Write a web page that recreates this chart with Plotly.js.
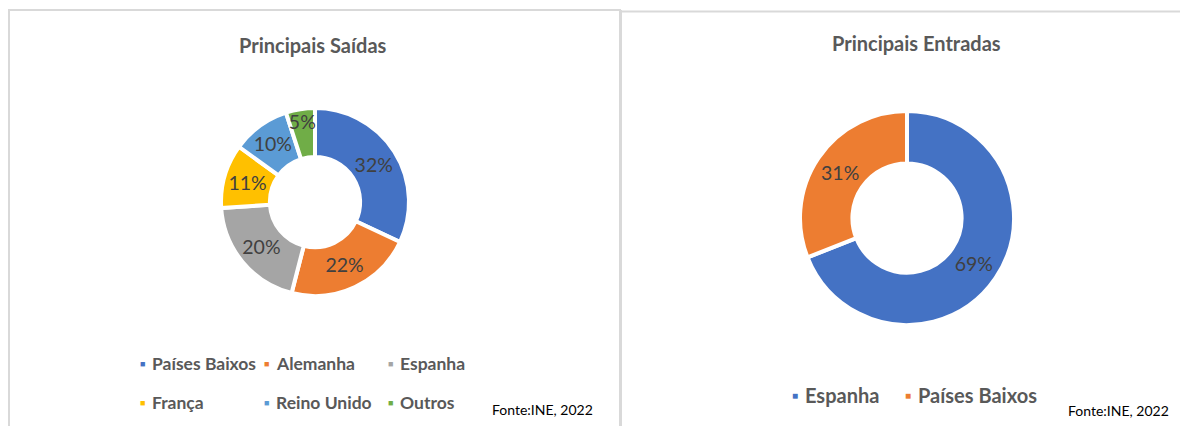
<!DOCTYPE html>
<html>
<head>
<meta charset="utf-8">
<script src="https://cdn.plot.ly/plotly-3.0.1.min.js"></script>
<style>
html,body{margin:0;padding:0;background:#fff;}
#chart{width:1180px;height:426px;}
</style>
</head>
<body>
<div id="chart"></div>
<script>
// ---- data ----
const outTitle = 'Principais Saídas';
const outCategories = ['Países Baixos', 'Alemanha', 'Espanha', 'França', 'Reino Unido', 'Outros'];
const outValues = [32, 22, 20, 11, 10, 5];
const outColors = ['#4472C4', '#ED7D31', '#A5A5A5', '#FFC000', '#5B9BD5', '#70AD47'];

const inTitle = 'Principais Entradas';
const inCategories = ['Espanha', 'Países Baixos'];
const inValues = [69, 31];
const inColors = ['#4472C4', '#ED7D31'];

const sourceText = 'Fonte:INE, 2022';

// ---- layout helpers ----
const W = 1180, H = 426;
const px = x => x / W;
const py = y => 1 - y / H;
function dom(cx, cy, r) {
  return {x: [px(cx - r), px(cx + r)], y: [py(cy + r), py(cy - r)]};
}
const FONT = 'Lato, Carlito, Calibri, sans-serif';
const GREY = '#595959';

function donut(labels, values, colors, domain, hole) {
  return {
    type: 'pie',
    labels: labels,
    values: values,
    marker: {colors: colors, line: {color: '#ffffff', width: 4}},
    hole: hole,
    domain: domain,
    sort: false,
    direction: 'clockwise',
    rotation: 0,
    textinfo: 'percent',
    texttemplate: '%{percent:.0%}',
    textposition: 'inside',
    insidetextorientation: 'horizontal',
    textfont: {family: FONT, size: 19.5, color: '#404040'},
    showlegend: false,
    hoverinfo: 'label+percent'
  };
}

const traces = [
  donut(outCategories, outValues, outColors, dom(315, 202, 94), 0.48),
  donut(inCategories, inValues, inColors, dom(907, 218, 107), 0.51)
];

const annotations = [];
function txt(x, y, text, size, bold, color, anchor) {
  annotations.push({
    xref: 'paper', yref: 'paper', x: px(x), y: py(y),
    text: bold ? '<b>' + text + '</b>' : text,
    showarrow: false, xanchor: anchor || 'center', yanchor: 'middle',
    font: {family: FONT, size: size, color: color}
  });
}

// titles
txt(313, 45, outTitle, 20, true, GREY);
txt(916, 43, inTitle, 20, true, GREY);

// left legend (3 columns x 2 rows)
const leftColX = [142, 266, 390];
const leftRowY = [363, 402];
outCategories.forEach((c, i) => {
  const col = i % 3, row = Math.floor(i / 3);
  txt(leftColX[col], leftRowY[row], '■', 9, false, outColors[i]);
  txt(leftColX[col] + 8, leftRowY[row], c, 17.5, true, GREY, 'left');
});

// right legend (one row)
const rightColX = [795, 908];
inCategories.forEach((c, i) => {
  txt(rightColX[i], 395, '■', 10, false, inColors[i]);
  txt(rightColX[i] + 8, 395, c, 20, true, GREY, 'left');
});

// source notes
txt(490, 409, sourceText, 14, false, '#000000', 'left');
txt(1066, 410, sourceText, 14, false, '#000000', 'left');

// panel frames
const frame = {color: '#d9d9d9', width: 2};
const shapes = [
  {type: 'line', xref: 'paper', yref: 'paper', x0: px(9), x1: px(9), y0: py(10), y1: py(426), line: frame},
  {type: 'line', xref: 'paper', yref: 'paper', x0: px(8), x1: px(621), y0: py(10), y1: py(10), line: frame},
  {type: 'line', xref: 'paper', yref: 'paper', x0: px(620.5), x1: px(620.5), y0: py(10), y1: py(426), line: {color: '#d9d9d9', width: 3}},
  {type: 'line', xref: 'paper', yref: 'paper', x0: px(620), x1: px(1180), y0: py(11.5), y1: py(11.5), line: frame}
];

const layout = {
  width: W, height: H,
  margin: {l: 0, r: 0, t: 0, b: 0},
  paper_bgcolor: '#ffffff',
  plot_bgcolor: '#ffffff',
  showlegend: false,
  uniformtext: {mode: 'show', minsize: 19.5},
  annotations: annotations,
  shapes: shapes,
  font: {family: FONT}
};

Plotly.newPlot('chart', traces, layout, {displayModeBar: false, staticPlot: true});
</script>
</body>
</html>
